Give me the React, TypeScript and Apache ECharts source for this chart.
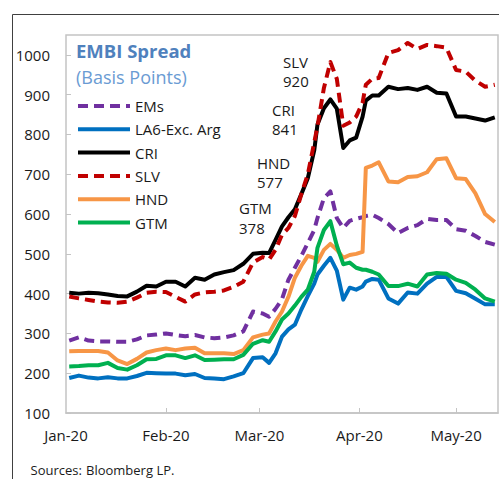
import { useEffect, useRef } from 'react';
import * as echarts from 'echarts';

const dates = [
  '2020-01-02', '2020-01-05', '2020-01-08', '2020-01-11', '2020-01-14', '2020-01-17', '2020-01-20', '2020-01-23', '2020-01-26', '2020-01-29',
  '2020-02-01', '2020-02-04', '2020-02-07', '2020-02-10', '2020-02-13', '2020-02-16', '2020-02-19', '2020-02-22', '2020-02-25', '2020-02-28',
  '2020-03-02', '2020-03-04', '2020-03-06', '2020-03-08', '2020-03-10', '2020-03-12', '2020-03-14', '2020-03-16', '2020-03-18', '2020-03-19',
  '2020-03-21', '2020-03-23', '2020-03-25', '2020-03-27', '2020-03-29', '2020-03-31', '2020-04-02', '2020-04-03', '2020-04-05', '2020-04-07',
  '2020-04-10', '2020-04-13', '2020-04-16', '2020-04-19', '2020-04-22', '2020-04-25', '2020-04-28', '2020-05-01', '2020-05-04', '2020-05-07', '2020-05-10', '2020-05-13',
];

const ems = [282, 290, 282, 280, 280, 279, 279, 285, 295, 297,
  300, 296, 293, 296, 290, 288, 290, 295, 305, 355,
  350, 342, 362, 386, 435, 465, 495, 527, 560, 590,
  640, 657, 590, 565, 583, 588, 592, 595, 598, 590,
  575, 552, 565, 572, 588, 585, 585, 562, 558, 545, 530, 523];

const la6 = [188, 194, 189, 187, 190, 187, 187, 193, 201, 200,
  199, 199, 195, 198, 188, 187, 185, 192, 200, 238,
  240, 226, 250, 292, 310, 322, 360, 394, 425, 448,
  470, 490, 458, 385, 415, 410, 418, 430, 437, 435,
  388, 375, 403, 400, 425, 442, 442, 407, 401, 387, 373, 373];

const cri = [402, 400, 402, 401, 398, 394, 393, 405, 420, 418,
  430, 430, 418, 440, 435, 448, 454, 459, 475, 500,
  503, 502, 535, 569, 592, 612, 650, 690, 760, 825,
  866, 888, 865, 766, 785, 792, 845, 885, 898, 898,
  920, 914, 917, 912, 920, 905, 903, 845, 845, 840, 835, 843];

const slv = [393, 388, 384, 380, 378, 377, 380, 390, 402, 405,
  404, 392, 380, 398, 403, 405, 408, 417, 430, 478,
  492, 486, 510, 548, 565, 595, 650, 700, 780, 820,
  917, 982, 940, 822, 830, 845, 880, 925, 940, 942,
  1005, 1012, 1030, 1015, 1025, 1022, 1018, 962, 958, 935, 920, 925];

const hnd = [255, 256, 256, 256, 252, 232, 223, 236, 252, 258,
  262, 258, 262, 264, 250, 250, 250, 248, 258, 290,
  297, 300, 330, 355, 392, 440, 470, 495, 490, 480,
  510, 525, 510, 490, 497, 500, 505, 716, 722, 730,
  682, 680, 693, 695, 705, 738, 740, 690, 688, 652, 600, 580];

const gtm = [217, 218, 220, 220, 226, 213, 209, 220, 235, 236,
  245, 245, 238, 245, 233, 234, 235, 235, 246, 274,
  283, 279, 305, 335, 350, 370, 392, 410, 455, 515,
  560, 582, 521, 474, 478, 465, 460, 460, 455, 448,
  419, 419, 425, 418, 448, 452, 450, 435, 427, 410, 388, 380];

const seriesNames = ['EMs', 'LA6-Exc. Arg', 'CRI', 'SLV', 'HND', 'GTM'];
const monthStarts = ['2020-01-01', '2020-02-01', '2020-03-01', '2020-04-01', '2020-05-01'];
const monthLabels = ['Jan-20', 'Feb-20', 'Mar-20', 'Apr-20', 'May-20'];
const axisEnd = '2020-05-15';

const titleText = 'EMBI Spread';
const subtitleText = '(Basis Points)';
const sourceParts = ['Sources:', 'Bloomberg', 'LP.'];
const callouts = [
  ['SLV', '920'],
  ['CRI', '841'],
  ['HND', '577'],
  ['GTM', '378'],
];

const dayOf = (s: string) => {
  const [y, m, d] = s.split('-').map(Number);
  return (Date.UTC(y, m - 1, d) - Date.UTC(2020, 0, 1)) / 86400000;
};

const FONT = "'Open Sans', 'Noto Sans', sans-serif";

export default function App() {
  const ref = useRef<HTMLDivElement>(null);
  useEffect(() => {
    if (!ref.current) return;
    const chart = echarts.init(ref.current, null, { renderer: 'svg' });
    const xs = dates.map(dayOf);
    const monthDays = monthStarts.map(dayOf);
    const mk = (name: string, vals: number[], color: string, dashed: boolean) => ({
      name,
      type: 'line',
      data: xs.map((x, i) => [x, vals[i]]),
      symbol: 'none',
      color,
      lineStyle: { color, width: 4, type: dashed ? [10, 6] : 'solid', cap: 'butt', join: 'round' },
      emphasis: { disabled: true },
    });
    const calloutPos = [
      [283, 61.7, 81],
      [272, 110, 129.3],
      [257, 162.7, 181.7],
      [239, 208.3, 228.3],
    ];
    const sourceX = [30.5, 86, 156.5];
    const graphic: any[] = [
      { type: 'line', shape: { x1: 12.5, y1: 14.5, x2: 499, y2: 14.5 }, style: { stroke: '#404040', lineWidth: 1 } },
      { type: 'line', shape: { x1: 12.5, y1: 14.5, x2: 12.5, y2: 479 }, style: { stroke: '#404040', lineWidth: 1 } },
      { type: 'text', x: 76, y: 50, style: { text: titleText, fontSize: 18.5, fontWeight: 'bold', fill: '#4f81bd', fontFamily: FONT, verticalAlign: 'middle' } },
      { type: 'text', x: 76, y: 77, style: { text: subtitleText, fontSize: 18, fill: '#6a9bd3', fontFamily: FONT, verticalAlign: 'middle' } },
    ];
    sourceParts.forEach((t, i) => {
      graphic.push({ type: 'text', x: sourceX[i], y: 470, style: { text: t, fontSize: 13, fill: '#1a1a1a', fontFamily: FONT, verticalAlign: 'middle' } });
    });
    callouts.forEach((c, i) => {
      const [x, y1, y2] = calloutPos[i];
      graphic.push({ type: 'text', x, y: y1, style: { text: c[0], fontSize: 15, fill: '#1a1a1a', fontFamily: FONT, verticalAlign: 'middle' } });
      graphic.push({ type: 'text', x, y: y2, style: { text: c[1], fontSize: 15, fill: '#1a1a1a', fontFamily: FONT, verticalAlign: 'middle' } });
    });
    chart.setOption({
      animation: false,
      backgroundColor: '#ffffff',
      textStyle: { fontFamily: FONT },
      grid: { left: 66, top: 35, right: 1, bottom: 66, show: true, borderColor: '#c4c4c4', borderWidth: 1.5 },
      xAxis: {
        type: 'value',
        min: 0,
        max: dayOf(axisEnd) - 1,
        axisLine: { show: true, lineStyle: { color: '#c4c4c4', width: 1.5 } },
        axisTick: { show: true, inside: true, length: 5, lineStyle: { color: '#c4c4c4' }, customValues: monthDays.slice(1) },
        axisLabel: {
          customValues: monthDays,
          formatter: (v: number) => monthLabels[monthDays.indexOf(v)] ?? '',
          fontSize: 15,
          color: '#1a1a1a',
          margin: 14,
        },
        splitLine: { show: false },
      },
      yAxis: {
        type: 'value',
        min: 100,
        max: 1050,
        interval: 100,
        axisLine: { show: false },
        axisTick: { show: true, inside: true, length: 5, lineStyle: { color: '#c4c4c4' } },
        axisLabel: { fontSize: 15, color: '#1a1a1a', margin: 16, showMaxLabel: false, formatter: (v: number) => String(v) },
        splitLine: { show: false },
      },
      legend: {
        orient: 'vertical',
        left: 76,
        top: 98,
        padding: 0,
        itemWidth: 52,
        itemHeight: 14,
        itemGap: 7.3,
        lineStyle: { width: 4 },
        itemStyle: { opacity: 0 },
        textStyle: { fontSize: 15, color: '#1a1a1a', lineHeight: 16 },
        data: seriesNames,
        selectedMode: false,
      },
      series: [
        mk(seriesNames[0], ems, '#7030a0', true),
        mk(seriesNames[1], la6, '#0070c0', false),
        mk(seriesNames[2], cri, '#000000', false),
        mk(seriesNames[3], slv, '#c00000', true),
        mk(seriesNames[4], hnd, '#f79646', false),
        mk(seriesNames[5], gtm, '#00b050', false),
      ],
      graphic,
    });
    return () => chart.dispose();
  }, []);
  return <div ref={ref} style={{ position: 'absolute', left: 0, top: 0, width: 499, height: 479, background: '#fff' }} />;
}
